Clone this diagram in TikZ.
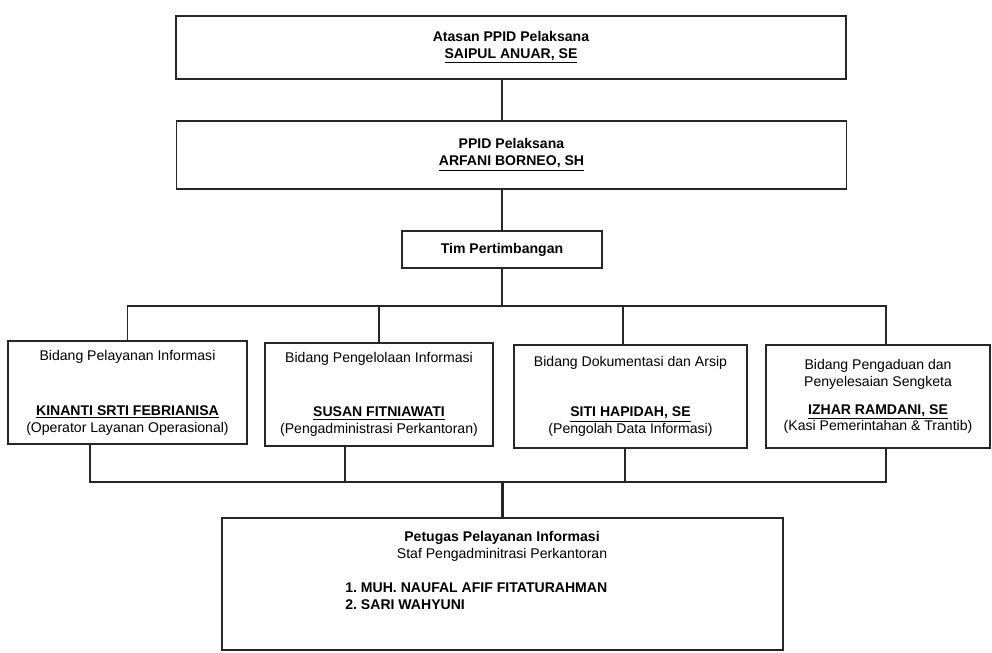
\documentclass[tikz,border=0pt]{standalone}
\usepackage{fontspec}
\setmainfont{Liberation Sans}
\usepackage{tikz}
\frenchspacing

\begin{document}
\begin{tikzpicture}[
		box/.style={rectangle, draw=black!85, line width=0.9pt, align=center, inner sep=0pt, font=\fontsize{8}{9.6}\selectfont},
		wide/.style={box, minimum width=13.4cm, minimum height=1.3cm},
		unit/.style={box, minimum height=2.06cm},
		txt/.style={font=\fontsize{8}{9.6}\selectfont, inner sep=0pt},
		link/.style={draw=black!85, line width=0.8pt},
		spine/.style={draw=black!85, line width=1.3pt}
	]
		\useasboundingbox (0,0) rectangle (19.84,-13.04);

		% Pimpinan
		\node[wide, minimum height=1.26cm] (atasan) at (10.22,-0.95) {\textbf{Atasan PPID Pelaksana}\\\textbf{\underline{SAIPUL ANUAR, SE}}};
		\node[wide, minimum height=1.36cm] (pelaksana) at (10.23,-3.10) {\textbf{PPID Pelaksana}\\\textbf{\underline{ARFANI BORNEO, SH}}};
		\node[box, minimum width=4cm, minimum height=0.74cm] (tim) at (10.04,-4.99) {\textbf{Tim Pertimbangan}};

		% Bidang
		\node[unit, minimum width=4.78cm] (pelayanan) at (2.55,-7.85) {Bidang Pelayanan Informasi\\[0.76cm]\textbf{\underline{KINANTI SRTI FEBRIANISA}}\\(Operator Layanan Operasional)};
		\node[unit, minimum width=4.56cm] (pengelolaan) at (7.58,-7.89) {Bidang Pengelolaan Informasi\\[0.74cm]\textbf{\underline{SUSAN FITNIAWATI}}\\(Pengadministrasi Perkantoran)};
		\node[unit, minimum width=4.66cm] (dokumentasi) at (12.61,-7.93) {Bidang Dokumentasi dan Arsip\\[0.66cm]\textbf{\underline{SITI HAPIDAH, SE}}\\(Pengolah Data Informasi)};
		\node[unit, minimum width=4.48cm] (pengaduan) at (17.56,-7.93) {Bidang Pengaduan dan\\Penyelesaian Sengketa\\[0.22cm]\textbf{\underline{IZHAR RAMDANI, SE}}\\(Kasi Pemerintahan \& Trantib)};

		% Petugas
		\node[box, minimum width=11.22cm, minimum height=2.64cm] (petugas) at (10.05,-11.68) {};
		\node[txt, align=center] (petugasjudul) at (10.04,-10.92) {\textbf{Petugas Pelayanan Informasi}\\Staf Pengadminitrasi Perkantoran};
		\node[txt, align=left, anchor=west] (petugasnama) at (6.9,-11.93) {\textbf{1. MUH. NAUFAL AFIF FITATURAHMAN}\\\textbf{2. SARI WAHYUNI}};

		% Garis
		\coordinate (busatas) at (0,-6.12);
		\coordinate (busbawah) at (0,-9.64);
		\draw[spine] (tim.north |- atasan.south) -- (tim.north |- pelaksana.north);
		\draw[spine] (tim.north |- pelaksana.south) -- (tim.north);
		\draw[spine] (tim.south) -- (tim.south |- busatas);
		\draw[link] (pelayanan.north) |- ([xshift=0.16cm]pengaduan.north |- busatas) -- ([xshift=0.16cm]pengaduan.north);
		\draw[link] (pengelolaan.north) -- (pengelolaan.north |- busatas);
		\draw[link] ([xshift=-0.15cm]dokumentasi.north) -- ([xshift=-0.15cm]dokumentasi.north |- busatas);
		\draw[link] ([xshift=-0.75cm]pelayanan.south) |- ([xshift=0.16cm]pengaduan.south |- busbawah) -- ([xshift=0.16cm]pengaduan.south);
		\draw[link] ([xshift=-0.68cm]pengelolaan.south) -- ([xshift=-0.68cm]pengelolaan.south |- busbawah);
		\draw[link] ([xshift=-0.11cm]dokumentasi.south) -- ([xshift=-0.11cm]dokumentasi.south |- busbawah);
		\draw[spine] (petugas.north |- busbawah) -- (petugas.north);
	\end{tikzpicture}
\end{document}
